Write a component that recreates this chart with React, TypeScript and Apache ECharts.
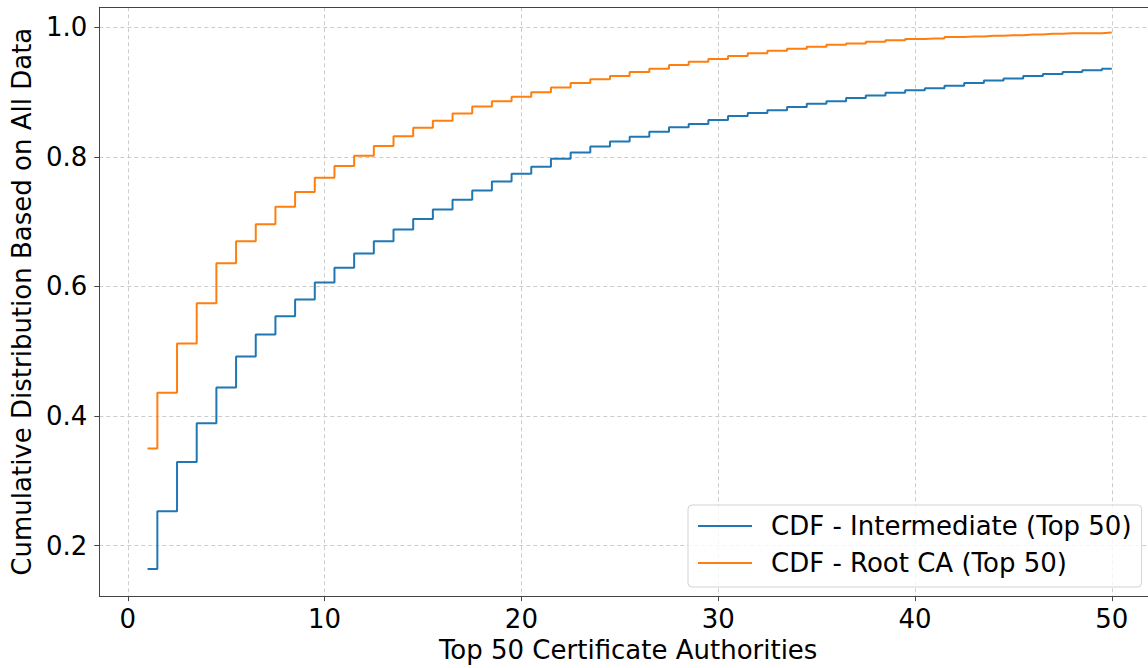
import React, { useEffect, useRef } from "react";
import * as echarts from "echarts";

const ranks = [
  1, 2, 3, 4, 5, 6, 7, 8, 9, 10, 11, 12, 13, 14, 15, 16, 17, 18, 19, 20, 21, 22, 23, 24, 25,
  26, 27, 28, 29, 30, 31, 32, 33, 34, 35, 36, 37, 38, 39, 40, 41, 42, 43, 44, 45, 46, 47, 48, 49, 50,
];

const intermediateCdf = [
  0.164, 0.253, 0.329, 0.389, 0.444, 0.492, 0.526, 0.554, 0.58, 0.606,
  0.629, 0.651, 0.67, 0.688, 0.704, 0.719, 0.734, 0.748, 0.762, 0.774,
  0.785, 0.797, 0.807, 0.816, 0.824, 0.831, 0.839, 0.846, 0.851, 0.857,
  0.863, 0.868, 0.872, 0.877, 0.882, 0.886, 0.891, 0.895, 0.899, 0.903,
  0.906, 0.91, 0.914, 0.918, 0.921, 0.925, 0.928, 0.931, 0.934, 0.936,
];

const rootCdf = [
  0.35, 0.436, 0.512, 0.574, 0.636, 0.67, 0.696, 0.723, 0.746, 0.768,
  0.786, 0.802, 0.817, 0.832, 0.845, 0.856, 0.867, 0.878, 0.886, 0.893,
  0.9, 0.907, 0.914, 0.92, 0.925, 0.931, 0.936, 0.942, 0.947, 0.951,
  0.956, 0.96, 0.964, 0.967, 0.97, 0.973, 0.975, 0.978, 0.98, 0.982,
  0.983, 0.985, 0.986, 0.987, 0.988, 0.989, 0.99, 0.991, 0.991, 0.992,
];

const xTicks = [0, 10, 20, 30, 40, 50];
const yTicks = [0.2, 0.4, 0.6, 0.8, 1.0];

const seriesNames = ["CDF - Intermediate (Top 50)", "CDF - Root CA (Top 50)"];
const xTitle = "Top 50 Certificate Authorities";
const yTitle = "Cumulative Distribution Based on All Data";

const FONT = "DejaVu Sans";
const FS = 26;

export default function App() {
  const ref = useRef<HTMLDivElement>(null);

  useEffect(() => {
    if (!ref.current) return;
    const chart = echarts.init(ref.current, undefined, { renderer: "svg" });

    const gridLine = { show: true, lineStyle: { color: "#cccccc", width: 1, type: [4, 3] } };

    chart.setOption({
      animation: false,
      backgroundColor: "#ffffff",
      textStyle: { fontFamily: FONT },
      grid: { left: 99.3, top: 7.3, bottom: 67, right: 0, containLabel: false },
      legend: {
        orient: "vertical",
        left: 688,
        top: 505,
        padding: [7, 10, 10, 10],
        itemGap: 9,
        itemWidth: 54,
        itemHeight: 2,
        icon: "rect",
        borderColor: "#d3d3d3",
        borderWidth: 1,
        borderRadius: 4,
        backgroundColor: "rgba(255,255,255,0.8)",
        textStyle: { fontFamily: FONT, fontSize: FS, color: "#000", lineHeight: 28, padding: [0, 0, 0, 14] },
        data: seriesNames,
      },
      xAxis: [
        {
          type: "value",
          min: -1.45,
          max: 51.84,
          name: xTitle,
          nameLocation: "middle",
          nameGap: 38,
          nameTextStyle: { fontFamily: FONT, fontSize: FS, color: "#000", padding: [0, 0, 0, 9] },
          axisLine: { show: true, onZero: false, lineStyle: { color: "#444", width: 1 } },
          axisTick: { show: true, customValues: xTicks, length: 5, lineStyle: { color: "#444" } },
          axisLabel: {
            customValues: xTicks,
            margin: 10,
            fontFamily: FONT,
            fontSize: FS,
            color: "#000",
          },
          splitLine: gridLine,
        },
        {
          type: "value",
          position: "top",
          min: -1.45,
          max: 51.84,
          axisLine: { show: true, onZero: false, lineStyle: { color: "#444", width: 1 } },
          axisTick: { show: false },
          axisLabel: { show: false },
          splitLine: { show: false },
        },
      ],
      yAxis: {
        type: "value",
        min: 0.122,
        max: 1.031,
        name: yTitle,
        nameLocation: "middle",
        nameGap: 64,
        nameTextStyle: { fontFamily: FONT, fontSize: FS, color: "#000" },
        axisLine: { show: true, onZero: false, lineStyle: { color: "#444", width: 1 } },
        axisTick: { show: true, customValues: yTicks, length: 5, lineStyle: { color: "#444" } },
        axisLabel: {
          customValues: yTicks,
          margin: 12,
          fontFamily: FONT,
          fontSize: FS,
          color: "#000",
          formatter: (v: number) => v.toFixed(1),
        },
        splitLine: gridLine,
      },
      series: [
        {
          name: seriesNames[0],
          type: "line",
          step: "middle",
          showSymbol: false,
          symbol: "none",
          color: "#1f77b4",
          lineStyle: { color: "#1f77b4", width: 2 },
          data: ranks.map((r, i) => [r, intermediateCdf[i]]),
        },
        {
          name: seriesNames[1],
          type: "line",
          step: "middle",
          showSymbol: false,
          symbol: "none",
          color: "#ff7f0e",
          lineStyle: { color: "#ff7f0e", width: 2 },
          data: ranks.map((r, i) => [r, rootCdf[i]]),
        },
      ],
    });

    return () => chart.dispose();
  }, []);

  return (
    <div
      ref={ref}
      style={{ position: "fixed", left: 0, top: 0, width: 1148, height: 668, background: "#fff" }}
    />
  );
}
